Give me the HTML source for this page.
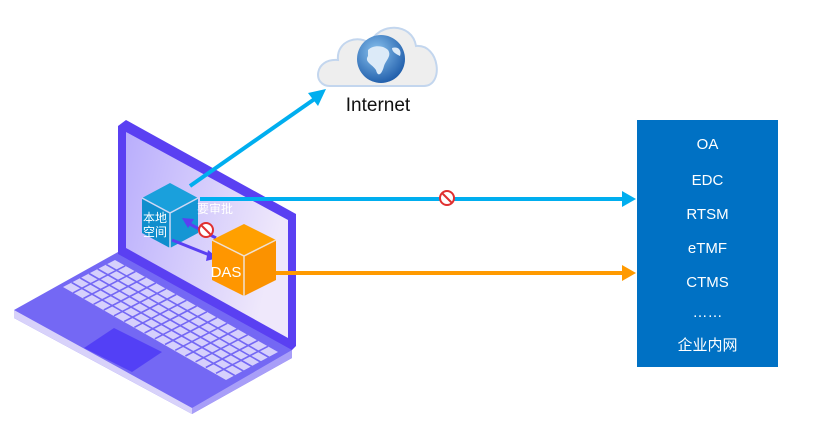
<!DOCTYPE html>
<html><head><meta charset="utf-8"><style>
html,body{margin:0;padding:0;background:#fff;}
body{width:832px;height:427px;position:relative;overflow:hidden;font-family:"Liberation Sans","Noto Sans CJK SC",sans-serif;}
.box{position:absolute;left:637px;top:120px;width:141px;height:247px;background:#0071c4;}
.box div{position:absolute;left:0;width:141px;text-align:center;color:#fff;font-size:15px;}
</style></head><body>
<svg width="832" height="427" style="position:absolute;left:0;top:0">
<defs>
<linearGradient id="scr" x1="0" y1="0" x2="1" y2="0.3"><stop offset="0" stop-color="#b9aefc"/><stop offset="1" stop-color="#efe8fb"/></linearGradient>
<radialGradient id="gl" cx="0.4" cy="0.35" r="0.7"><stop offset="0" stop-color="#8cc4f0"/><stop offset="1" stop-color="#1c5aa8"/></radialGradient>
</defs>
<!-- cloud -->
<path d="M330,86 C312,86 314,58 338,60 C336,40 360,34 370,44 C378,22 412,22 416,46 C440,44 444,86 424,86 Z" fill="#eeeeee" stroke="#c3d6ee" stroke-width="2"/>
<circle cx="381" cy="59" r="24" fill="url(#gl)"/>
<path d="M368,50 C374,44 384,46 388,50 C392,56 386,60 384,66 C382,74 378,78 376,70 C372,64 364,62 368,56 Z M392,48 C398,46 402,50 400,56 C396,54 392,52 392,48 Z" fill="#dceaf8"/>
<text x="378" y="111" font-size="19" text-anchor="middle" fill="#111" font-family="Liberation Sans, sans-serif">Internet</text>
<!-- laptop base -->
<path d="M14,310 L118,252 L292,348 L292,358 L192,414 L14,318 Z" fill="#7468f4"/>
<path d="M14,310 L14,318 L192,414 L192,408 Z" fill="#d8d2fa"/>
<path d="M192,414 L292,358 L292,350 L192,408 Z" fill="#a89ef8"/>
<path d="M63,287 L115,260 L278,352 L226,380 Z" fill="#d6d0fc"/>
<g stroke="#7468f4" stroke-width="1.6">
<line x1="71.7" y1="282.5" x2="234.7" y2="375.5"/>
<line x1="80.3" y1="278" x2="243.3" y2="371"/>
<line x1="89" y1="273.5" x2="252" y2="366.5"/>
<line x1="97.7" y1="269" x2="260.7" y2="362"/>
<line x1="106.3" y1="264.5" x2="269.3" y2="357.5"/>
</g>
<g stroke="#7468f4" stroke-width="1.6">
<line x1="73.2" y1="292.8" x2="125.2" y2="265.8"/>
<line x1="83.4" y1="298.5" x2="135.4" y2="271.5"/>
<line x1="93.6" y1="304.3" x2="145.6" y2="277.3"/>
<line x1="103.8" y1="310" x2="155.8" y2="283"/>
<line x1="114" y1="315.8" x2="166" y2="288.8"/>
<line x1="124.2" y1="321.5" x2="176.2" y2="294.5"/>
<line x1="134.4" y1="327.3" x2="186.4" y2="300.3"/>
<line x1="144.6" y1="333" x2="196.6" y2="306"/>
<line x1="154.8" y1="338.8" x2="206.8" y2="311.8"/>
<line x1="165" y1="344.5" x2="217" y2="317.5"/>
<line x1="175.2" y1="350.3" x2="227.2" y2="323.3"/>
<line x1="185.4" y1="356" x2="237.4" y2="329"/>
<line x1="195.6" y1="361.8" x2="247.6" y2="334.8"/>
<line x1="205.8" y1="367.5" x2="257.8" y2="340.5"/>
<line x1="216" y1="373.3" x2="268" y2="346.3"/>
</g>
<path d="M84,348 L114,328 L162,352 L132,372 Z" fill="#5340f6"/>
<!-- screen -->
<path d="M118,126 L126,120 L296,214 L296,346 L292,350 L118,254 Z" fill="#5a40f2"/>
<path d="M126,132 L288,220 L288,338 L126,248 Z" fill="url(#scr)"/>
<!-- arrows -->
<line x1="190" y1="186" x2="316" y2="98" stroke="#00aeef" stroke-width="4"/>
<path d="M308,93 L326,89 L318,106 Z" fill="#00aeef"/>
<line x1="200" y1="199" x2="624" y2="199" stroke="#00aeef" stroke-width="4"/>
<path d="M622,191 L636,199 L622,207 Z" fill="#00aeef"/>
<line x1="262" y1="273" x2="624" y2="273" stroke="#ff9a00" stroke-width="4"/>
<path d="M622,265 L636,273 L622,281 Z" fill="#ff9a00"/>
<!-- blue cube -->
<path d="M142,198 L170,183 L198,198 L170,213 Z" fill="#1aa0dc"/>
<path d="M142,198 L170,213 L170,248 L142,233 Z" fill="#0f8ecd"/>
<path d="M170,213 L198,198 L198,233 L170,248 Z" fill="#1596d4"/>
<path d="M142,198 L170,213 L198,198 M170,213 L170,248" stroke="#cfd8f4" stroke-width="1.5" fill="none"/>
<text x="155" y="222" font-size="12" fill="#fff" text-anchor="middle">本地</text>
<text x="155" y="236" font-size="12" fill="#fff" text-anchor="middle">空间</text>
<!-- purple arrows -->
<line x1="172" y1="240" x2="212" y2="256" stroke="#5a40f2" stroke-width="3"/>
<path d="M208,250 L218,258 L206,261 Z" fill="#5a40f2"/>
<line x1="216" y1="238" x2="186" y2="222" stroke="#5a40f2" stroke-width="3"/>
<path d="M182,218 L194,219 L188,228 Z" fill="#5a40f2"/>
<!-- orange cube -->
<path d="M212,240 L244,224 L276,240 L244,256 Z" fill="#ffa000"/>
<path d="M212,240 L244,256 L244,296 L212,280 Z" fill="#ff9600"/>
<path d="M244,256 L276,240 L276,280 L244,296 Z" fill="#fb9200"/>
<path d="M212,240 L244,256 L276,240 M244,256 L244,296" stroke="#f0e0d0" stroke-width="1.5" fill="none"/>
<text x="226" y="277" font-size="15" fill="#fff" text-anchor="middle">DAS</text>
<text x="215" y="213" font-size="12" fill="#fff" text-anchor="middle">要审批</text>
<!-- no signs -->
<g transform="translate(206,230)"><circle r="7" fill="#fff" stroke="#e03030" stroke-width="2"/><line x1="-5" y1="-5" x2="5" y2="5" stroke="#e03030" stroke-width="2"/></g>
<g transform="translate(447,198)"><circle r="7" fill="#fff" stroke="#e03030" stroke-width="2"/><line x1="-5" y1="-5" x2="5" y2="5" stroke="#e03030" stroke-width="2"/></g>
</svg>
<div class="box">
<div style="top:16px">OA</div>
<div style="top:52px">EDC</div>
<div style="top:86px">RTSM</div>
<div style="top:120px">eTMF</div>
<div style="top:154px">CTMS</div>
<div style="top:184px">……</div>
<div style="top:214px">企业内网</div>
</div>
</body></html>
